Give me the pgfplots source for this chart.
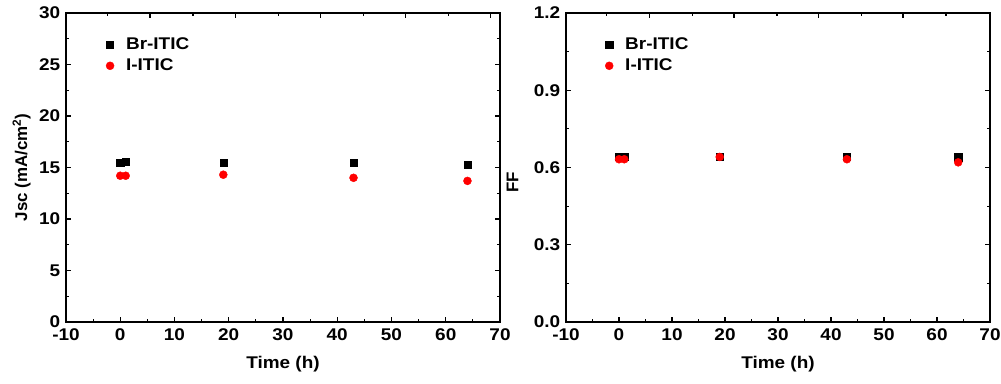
\documentclass[border=0pt]{standalone}
\usepackage{fontspec}
\setmainfont[FakeStretch=1.12]{Liberation Sans}
\newfontfamily\plainfont{Liberation Sans}
\usepackage{pgfplots}
\pgfplotsset{compat=1.18}
\begin{document}
\fontsize{17}{20}\selectfont\bfseries
\begin{tikzpicture}[x=1bp,y=1bp]
\useasboundingbox (0,0) rectangle (1001,383);
\pgfplotsset{
  common/.style={
    scale only axis,
    height=309bp,
    xmin=-10, xmax=70,
    tick align=inside,
    major tick length=5bp,
    minor tick length=3bp,
    axis line style={line width=1.6bp},
    every tick/.style={line width=1.2bp, black},
  },
  myax/.style={
    common,
    xtick={-10,0,...,70},
    minor x tick num=1,
    xtick pos=left,
    ticklabel style={font=\fontsize{17}{20}\selectfont\bfseries},
    xticklabel style={yshift=-1bp},
    label style={font=\fontsize{17}{20}\selectfont\bfseries},
    ylabel style={font=\plainfont\fontsize{17}{20}\selectfont\bfseries},
    xlabel style={yshift=-4bp},
    /pgf/number format/assume math mode=true,
    xlabel={Time (h)},
    legend style={draw=none, fill=none, at={(0.085,0.935)}, anchor=north west,
      font=\fontsize{17}{20}\selectfont\bfseries, row sep=3bp,
      /tikz/every odd column/.append style={column sep=10bp}},
    legend cell align=left,
  },
  topax/.style={
    common,
    axis x line*=top, axis y line=none,
    x axis line style={-},
    xticklabels={}, ymin=0, ymax=1,
  },
  brs/.style={only marks, mark=square*, mark size=3.6bp, black},
  irs/.style={only marks, mark=*, mark size=4bp, red, mark options={fill=red, draw=red}},
}
\begin{axis}[myax, at={(66bp,61bp)}, anchor=south west, width=434bp,
  ymin=0, ymax=30, ytick={0,5,...,30}, minor y tick num=1,
  ylabel={Jsc (mA/cm\textsuperscript{2})}, ylabel style={yshift=-3bp}]
\addplot[brs] coordinates {(0,15.5) (1,15.6) (19,15.5) (43,15.5) (64,15.3)};
\addplot[irs] coordinates {(0,14.2) (1,14.2) (19,14.3) (43,14.0) (64,13.7)};
\legend{Br-ITIC, I-ITIC}
\end{axis}
\begin{axis}[topax, at={(66bp,61bp)}, anchor=south west, width=434bp,
  xtick={5.5,21.2,36.9,52.6,68.3}, minor xtick={-2.3,13.4,29.1,44.8,60.5}]
\end{axis}
\begin{axis}[myax, at={(566bp,61bp)}, anchor=south west, width=424bp,
  ymin=0, ymax=1.2, ytick={0,0.3,...,1.21}, minor y tick num=1,
  yticklabel style={/pgf/number format/.cd, fixed, fixed zerofill, precision=1},
  ylabel={FF}, ylabel style={xshift=-15bp, yshift=4bp}]
\addplot[brs] coordinates {(0,0.641) (1,0.641) (19,0.641) (43,0.641) (64,0.640)};
\addplot[irs] coordinates {(0,0.632) (1,0.632) (19,0.641) (43,0.632) (64,0.620)};
\legend{Br-ITIC, I-ITIC}
\end{axis}
\begin{axis}[topax, at={(566bp,61bp)}, anchor=south west, width=424bp,
  xtick={5.7,21.7,37.7,53.6}, minor xtick={-2.3,13.8,29.8,45.7,61.7}]
\end{axis}
\end{tikzpicture}
\end{document}
